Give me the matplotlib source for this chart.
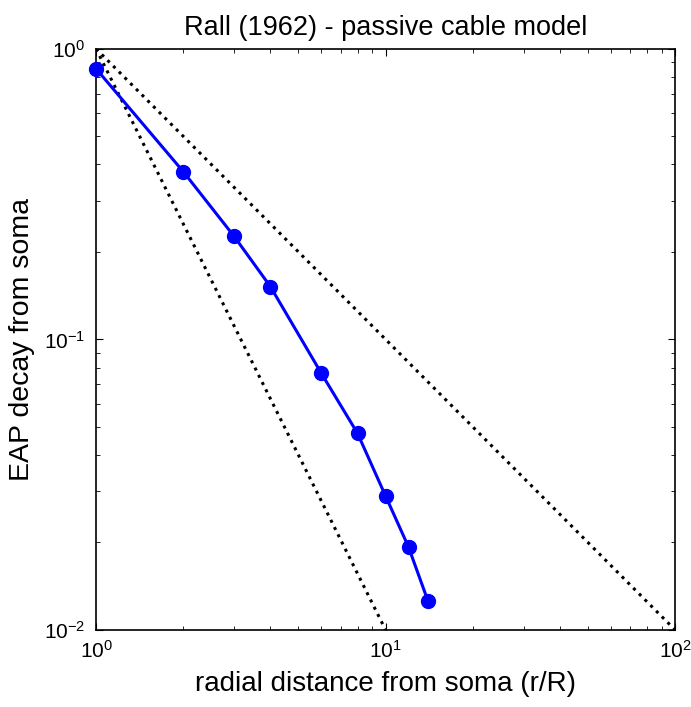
import numpy as np
import matplotlib
matplotlib.use('Agg')
import matplotlib.pyplot as plt
from matplotlib.ticker import LogFormatterMathtext

plt.rcParams['font.family'] = ['Liberation Sans', 'DejaVu Sans']
plt.rcParams['mathtext.fontset'] = 'custom'
plt.rcParams['mathtext.rm'] = 'Liberation Sans'
plt.rcParams['mathtext.it'] = 'Liberation Sans:italic'
plt.rcParams['mathtext.bf'] = 'Liberation Sans:bold'
plt.rcParams['axes.unicode_minus'] = False

# data
dist = [1, 2, 3, 4, 6, 8, 10, 12, 14]
eap = [0.854, 0.378, 0.226, 0.152, 0.0764, 0.0475, 0.0289, 0.0193, 0.0126]
ref_x = [1, 100]
ref_slope1 = [1, 0.01]
ref_x2 = [1, 10]
ref_slope2 = [1, 0.01]

fig = plt.figure(figsize=(6.91, 7.07), dpi=100)
ax = fig.add_axes([0.139, 0.109, 0.838, 0.822])

ax.loglog(ref_x, ref_slope1, ':', color='black', lw=2.2)
ax.loglog(ref_x2, ref_slope2, ':', color='black', lw=2.2)
ax.loglog(dist, eap, '-o', color='blue', lw=2.2, ms=10, clip_on=False, zorder=3)

ax.set_xlim(1, 100)
ax.set_ylim(0.01, 1)
ax.xaxis.set_major_formatter(LogFormatterMathtext())
ax.yaxis.set_major_formatter(LogFormatterMathtext())
ax.tick_params(which='both', direction='in', top=True, right=True, labelsize=15)
ax.tick_params(which='major', length=5)
ax.tick_params(which='minor', length=3)
ax.tick_params(axis='x', pad=7)
ax.tick_params(axis='y', pad=8)
for s in ax.spines.values():
    s.set_linewidth(1.2)

ax.set_title('Rall (1962) - passive cable model', fontsize=19.5, pad=10)
ax.set_xlabel('radial distance from soma (r/R)', fontsize=20, labelpad=7)
ax.set_ylabel('EAP decay from soma', fontsize=20.5, labelpad=6)

fig.savefig('out.png', dpi=100)
